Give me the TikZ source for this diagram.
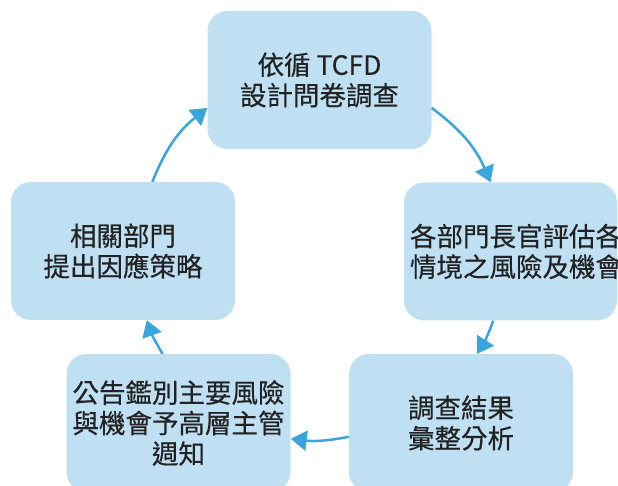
\documentclass[tikz,border=0pt]{standalone}
\usepackage{fontspec}
\newfontfamily\cjk[FakeBold=0.4]{Noto Sans CJK TC}
\usetikzlibrary{arrows.meta}
\definecolor{boxblue}{RGB}{190,224,242}
\definecolor{arrowblue}{RGB}{58,164,220}
\definecolor{textgray}{RGB}{34,34,34}

\begin{document}
\begin{tikzpicture}[x=1pt,y=1pt,
  box/.style={fill=boxblue,rounded corners=20pt,minimum width=224pt,minimum height=138pt,
    inner sep=0pt,align=center,text=textgray,font=\cjk\fontsize{26.5}{30.5}\selectfont},
  flow/.style={draw=arrowblue,line width=2.5pt,-{Triangle[length=16pt,width=20pt]}}]
\useasboundingbox (0,0) rectangle (618,486);
\clip (0,0) rectangle (618,486);
\node[box] (tcfd) at (319.5,406) {依循 TCFD\\設計問卷調查};
\node[box,minimum width=213pt] (assess) at (510.5,234.5)
  {\makebox[0pt]{\hspace{11pt}各部門長官評估各}\\\makebox[0pt]{\hspace{11pt}情境之風險及機會}};
\node[box] (analysis) at (461,63) {調查結果\\彙整分析};
\node[box] (report) at (178.5,63) {公告鑑別主要風險\\與機會予高層主管\\週知};
\node[box] (strategy) at (123,235) {相關部門\\提出因應策略};
\draw[flow] (tcfd.-14) to[bend left=15] (assess.106);
\draw[flow] (assess.-104) to[bend left=6] (analysis.77);
\draw[flow] (analysis.-173) to[bend left=9] (report.-8);
\draw[flow] (report.103) to[bend left=6] (strategy.-71);
\draw[flow] (strategy.67) to[bend left=15] (tcfd.-166);
\end{tikzpicture}
\end{document}
